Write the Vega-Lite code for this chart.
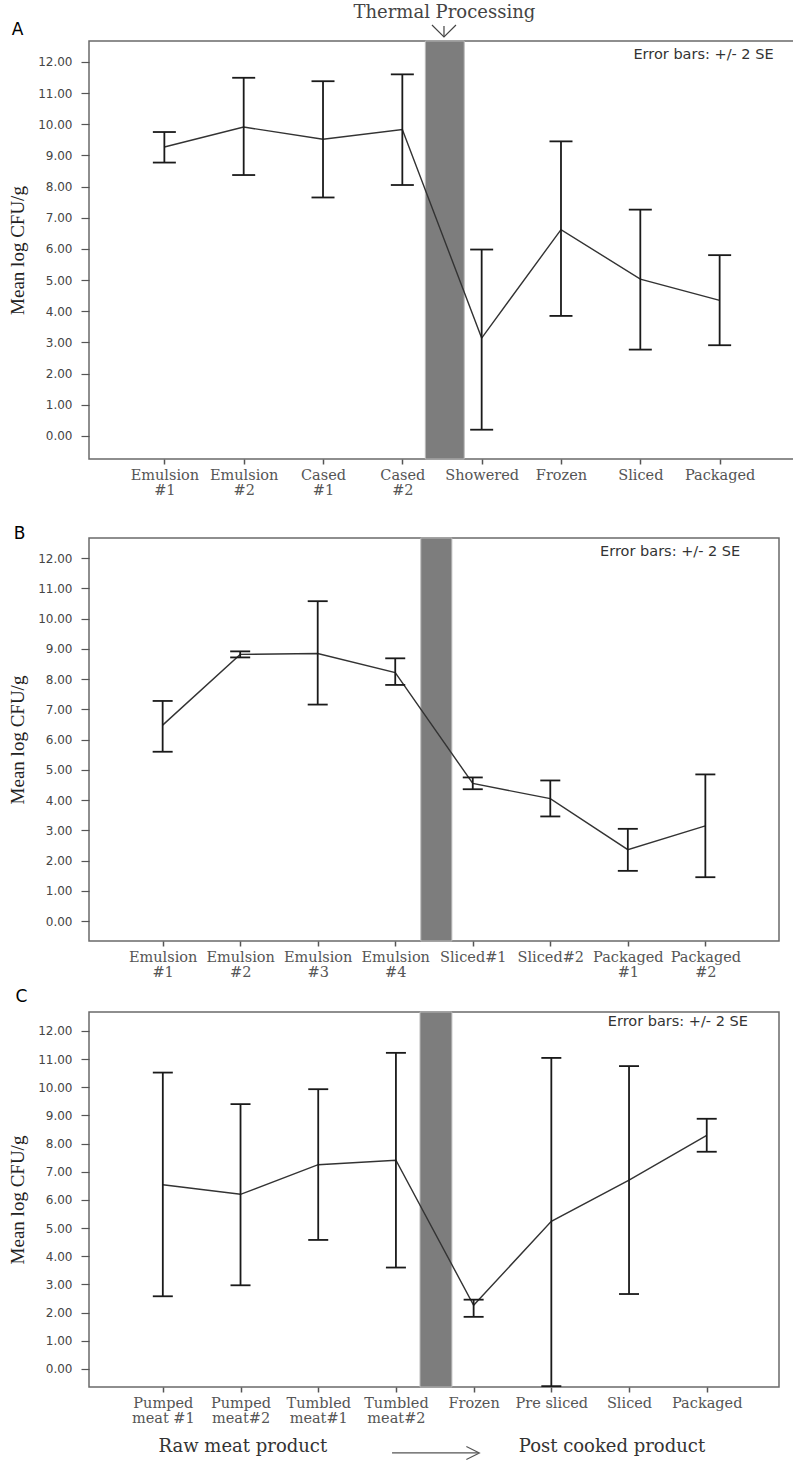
{
  "$schema": "https://vega.github.io/schema/vega-lite/v6.json",
  "padding": {"left": 7, "top": 2, "right": 0, "bottom": 0},
  "background": "white",
  "bounds": "flush",
  "spacing": 79,
  "datasets": {
    "a": [
      {"idx": 1, "stage": "Emulsion #1", "mean": 9.27, "lo": 8.77, "hi": 9.75},
      {"idx": 2, "stage": "Emulsion #2", "mean": 9.91, "lo": 8.37, "hi": 11.49},
      {"idx": 3, "stage": "Cased #1", "mean": 9.52, "lo": 7.65, "hi": 11.38},
      {"idx": 4, "stage": "Cased #2", "mean": 9.83, "lo": 8.05, "hi": 11.6},
      {"idx": 5, "stage": "Showered", "mean": 3.14, "lo": 0.2, "hi": 5.98},
      {"idx": 6, "stage": "Frozen", "mean": 6.62, "lo": 3.85, "hi": 9.45},
      {"idx": 7, "stage": "Sliced", "mean": 5.03, "lo": 2.77, "hi": 7.26},
      {"idx": 8, "stage": "Packaged", "mean": 4.35, "lo": 2.91, "hi": 5.8}
    ],
    "b": [
      {"idx": 1, "stage": "Emulsion #1", "mean": 6.48, "lo": 5.6, "hi": 7.28},
      {"idx": 2, "stage": "Emulsion #2", "mean": 8.82, "lo": 8.72, "hi": 8.92},
      {"idx": 3, "stage": "Emulsion #3", "mean": 8.85, "lo": 7.16, "hi": 10.58},
      {"idx": 4, "stage": "Emulsion #4", "mean": 8.22, "lo": 7.81, "hi": 8.69},
      {"idx": 5, "stage": "Sliced#1", "mean": 4.55, "lo": 4.36, "hi": 4.75},
      {"idx": 6, "stage": "Sliced#2", "mean": 4.05, "lo": 3.46, "hi": 4.65},
      {"idx": 7, "stage": "Packaged #1", "mean": 2.36, "lo": 1.66, "hi": 3.05},
      {"idx": 8, "stage": "Packaged #2", "mean": 3.15, "lo": 1.45, "hi": 4.85}
    ],
    "c": [
      {"idx": 1, "stage": "Pumped meat #1", "mean": 6.54, "lo": 2.58, "hi": 10.52},
      {"idx": 2, "stage": "Pumped meat#2", "mean": 6.2, "lo": 2.97, "hi": 9.4},
      {"idx": 3, "stage": "Tumbled meat#1", "mean": 7.25, "lo": 4.58, "hi": 9.93},
      {"idx": 4, "stage": "Tumbled meat#2", "mean": 7.41, "lo": 3.6, "hi": 11.22},
      {"idx": 5, "stage": "Frozen", "mean": 2.26, "lo": 1.85, "hi": 2.46},
      {"idx": 6, "stage": "Pre sliced", "mean": 5.24, "lo": -0.61, "hi": 11.04},
      {"idx": 7, "stage": "Sliced", "mean": 6.7, "lo": 2.66, "hi": 10.75},
      {"idx": 8, "stage": "Packaged", "mean": 8.29, "lo": 7.71, "hi": 8.88}
    ],
    "note": [{"note": "Error bars: +/- 2 SE"}]
  },
  "vconcat": [
    {
      "width": 706,
      "height": 418,
      "layer": [
        {"data": {"name": "note"}, "mark": {"type": "rect", "color": "#7d7d7d", "stroke": "#b8b8b8", "strokeWidth": 1},
          "encoding": {
            "x": {"datum": 4.29, "type": "quantitative", "scale": {"domain": [0.05, 8.95], "nice": false, "zero": false}}, "x2": {"datum": 4.78},
            "y": {"datum": -0.74, "type": "quantitative", "scale": {"domain": [-0.74, 12.67], "nice": false, "zero": false}}, "y2": {"datum": 12.67}}},
        {"data": {"name": "a"}, "mark": {"type": "line", "color": "#333333", "strokeWidth": 1.4},
          "encoding": {
            "x": {"field": "idx", "type": "quantitative", "scale": {"domain": [0.05, 8.95], "nice": false, "zero": false},
              "axis": {"values": [1, 2, 3, 4, 5, 6, 7, 8], "title": null,
                "labelExpr": "split(['','Emulsion|#1','Emulsion|#2','Cased|#1','Cased|#2','Showered','Frozen','Sliced','Packaged'][datum.value],'|')"}},
            "y": {"field": "mean", "type": "quantitative", "scale": {"domain": [-0.74, 12.67], "nice": false, "zero": false},
              "axis": {"title": "Mean log CFU/g"}}}},
        {"data": {"name": "a"}, "mark": {"type": "rule", "color": "#1a1a1a", "strokeWidth": 1.8},
          "encoding": {"x": {"field": "idx", "type": "quantitative"}, "y": {"field": "lo", "type": "quantitative"}, "y2": {"field": "hi"}}},
        {"data": {"name": "a"}, "mark": {"type": "tick", "orient": "horizontal", "size": 23, "thickness": 1.8, "color": "#1a1a1a", "opacity": 1},
          "encoding": {"x": {"field": "idx", "type": "quantitative"}, "y": {"field": "lo", "type": "quantitative"}}},
        {"data": {"name": "a"}, "mark": {"type": "tick", "orient": "horizontal", "size": 23, "thickness": 1.8, "color": "#1a1a1a", "opacity": 1},
          "encoding": {"x": {"field": "idx", "type": "quantitative"}, "y": {"field": "hi", "type": "quantitative"}}},
        {"data": {"name": "note"}, "mark": {"type": "text", "align": "right", "baseline": "alphabetic", "font": "DejaVu Sans", "fontSize": 14.5, "color": "#333333"},
          "encoding": {"text": {"field": "note"}, "x": {"datum": 8.68, "type": "quantitative"}, "y": {"datum": 12.1, "type": "quantitative"}}},
        {"data": {"name": "note"}, "mark": {"type": "text", "text": "A", "align": "center", "baseline": "alphabetic", "font": "DejaVu Sans", "fontSize": 17, "color": "#000000"},
          "encoding": {"x": {"datum": -0.85, "type": "quantitative"}, "y": {"datum": 12.86, "type": "quantitative"}}},
        {"data": {"name": "note"}, "mark": {"type": "text", "text": "Thermal Processing", "align": "center", "baseline": "alphabetic", "font": "DejaVu Serif", "fontSize": 18, "color": "#444444"},
          "encoding": {"x": {"datum": 4.53, "type": "quantitative"}, "y": {"datum": 13.42, "type": "quantitative"}}},
        {"data": {"name": "note"}, "mark": {"type": "rule", "color": "#444444", "strokeWidth": 1.2},
          "encoding": {"x": {"datum": 4.525, "type": "quantitative"}, "y": {"datum": 13.15, "type": "quantitative"}, "y2": {"datum": 12.8}}},
        {"data": {"name": "note"}, "mark": {"type": "point", "shape": "M -1 -0.5 L 0 0.5 L 1 -0.5", "size": 576, "filled": false, "color": "#444444", "strokeWidth": 1.2, "opacity": 1},
          "encoding": {"x": {"datum": 4.525, "type": "quantitative"}, "y": {"datum": 12.99, "type": "quantitative"}}}
      ]
    },
    {
      "bounds": "flush",
      "spacing": 71,
      "vconcat": [
        {
          "width": 690,
          "height": 403,
          "layer": [
            {"data": {"name": "note"}, "mark": {"type": "rect", "color": "#7d7d7d", "stroke": "#b8b8b8", "strokeWidth": 1},
              "encoding": {
                "x": {"datum": 4.33, "type": "quantitative", "scale": {"domain": [0.05, 8.95], "nice": false, "zero": false}}, "x2": {"datum": 4.73},
                "y": {"datum": -0.66, "type": "quantitative", "scale": {"domain": [-0.66, 12.67], "nice": false, "zero": false}}, "y2": {"datum": 12.67}}},
            {"data": {"name": "b"}, "mark": {"type": "line", "color": "#333333", "strokeWidth": 1.4},
              "encoding": {
                "x": {"field": "idx", "type": "quantitative", "scale": {"domain": [0.05, 8.95], "nice": false, "zero": false},
                  "axis": {"values": [1, 2, 3, 4, 5, 6, 7, 8], "title": null,
                    "labelExpr": "split(['','Emulsion|#1','Emulsion|#2','Emulsion|#3','Emulsion|#4','Sliced#1','Sliced#2','Packaged|#1','Packaged|#2'][datum.value],'|')"}},
                "y": {"field": "mean", "type": "quantitative", "scale": {"domain": [-0.66, 12.67], "nice": false, "zero": false},
                  "axis": {"title": "Mean log CFU/g"}}}},
            {"data": {"name": "b"}, "mark": {"type": "rule", "color": "#1a1a1a", "strokeWidth": 1.8},
              "encoding": {"x": {"field": "idx", "type": "quantitative"}, "y": {"field": "lo", "type": "quantitative"}, "y2": {"field": "hi"}}},
            {"data": {"name": "b"}, "mark": {"type": "tick", "orient": "horizontal", "size": 20, "thickness": 1.8, "color": "#1a1a1a", "opacity": 1},
              "encoding": {"x": {"field": "idx", "type": "quantitative"}, "y": {"field": "lo", "type": "quantitative"}}},
            {"data": {"name": "b"}, "mark": {"type": "tick", "orient": "horizontal", "size": 20, "thickness": 1.8, "color": "#1a1a1a", "opacity": 1},
              "encoding": {"x": {"field": "idx", "type": "quantitative"}, "y": {"field": "hi", "type": "quantitative"}}},
            {"data": {"name": "note"}, "mark": {"type": "text", "align": "right", "baseline": "alphabetic", "font": "DejaVu Sans", "fontSize": 14.5, "color": "#333333"},
              "encoding": {"text": {"field": "note"}, "x": {"datum": 8.45, "type": "quantitative"}, "y": {"datum": 12.09, "type": "quantitative"}}},
            {"data": {"name": "note"}, "mark": {"type": "text", "text": "B", "align": "center", "baseline": "alphabetic", "font": "DejaVu Sans", "fontSize": 17, "color": "#000000"},
              "encoding": {"x": {"datum": -0.845, "type": "quantitative"}, "y": {"datum": 12.65, "type": "quantitative"}}}
          ]
        },
        {
          "width": 690,
          "height": 375,
          "layer": [
            {"data": {"name": "note"}, "mark": {"type": "rect", "color": "#7d7d7d", "stroke": "#b8b8b8", "strokeWidth": 1},
              "encoding": {
                "x": {"datum": 4.31, "type": "quantitative", "scale": {"domain": [0.05, 8.93], "nice": false, "zero": false}}, "x2": {"datum": 4.72},
                "y": {"datum": -0.64, "type": "quantitative", "scale": {"domain": [-0.64, 12.67], "nice": false, "zero": false}}, "y2": {"datum": 12.67}}},
            {"data": {"name": "c"}, "mark": {"type": "line", "color": "#333333", "strokeWidth": 1.4},
              "encoding": {
                "x": {"field": "idx", "type": "quantitative", "scale": {"domain": [0.05, 8.93], "nice": false, "zero": false},
                  "axis": {"values": [1, 2, 3, 4, 5, 6, 7, 8], "title": null,
                    "labelExpr": "split(['','Pumped|meat #1','Pumped|meat#2','Tumbled|meat#1','Tumbled|meat#2','Frozen','Pre sliced','Sliced','Packaged'][datum.value],'|')"}},
                "y": {"field": "mean", "type": "quantitative", "scale": {"domain": [-0.64, 12.67], "nice": false, "zero": false},
                  "axis": {"title": "Mean log CFU/g"}}}},
            {"data": {"name": "c"}, "mark": {"type": "rule", "color": "#1a1a1a", "strokeWidth": 1.8},
              "encoding": {"x": {"field": "idx", "type": "quantitative"}, "y": {"field": "lo", "type": "quantitative"}, "y2": {"field": "hi"}}},
            {"data": {"name": "c"}, "mark": {"type": "tick", "orient": "horizontal", "size": 20, "thickness": 1.8, "color": "#1a1a1a", "opacity": 1},
              "encoding": {"x": {"field": "idx", "type": "quantitative"}, "y": {"field": "lo", "type": "quantitative"}}},
            {"data": {"name": "c"}, "mark": {"type": "tick", "orient": "horizontal", "size": 20, "thickness": 1.8, "color": "#1a1a1a", "opacity": 1},
              "encoding": {"x": {"field": "idx", "type": "quantitative"}, "y": {"field": "hi", "type": "quantitative"}}},
            {"data": {"name": "note"}, "mark": {"type": "text", "align": "right", "baseline": "alphabetic", "font": "DejaVu Sans", "fontSize": 14.5, "color": "#333333"},
              "encoding": {"text": {"field": "note"}, "x": {"datum": 8.53, "type": "quantitative"}, "y": {"datum": 12.18, "type": "quantitative"}}},
            {"data": {"name": "note"}, "mark": {"type": "text", "text": "C", "align": "center", "baseline": "alphabetic", "font": "DejaVu Sans", "fontSize": 17, "color": "#000000"},
              "encoding": {"x": {"datum": -0.82, "type": "quantitative"}, "y": {"datum": 13.03, "type": "quantitative"}}},
            {"data": {"name": "note"}, "mark": {"type": "text", "text": "Raw meat product", "align": "center", "baseline": "alphabetic", "font": "DejaVu Serif", "fontSize": 18, "color": "#333333"},
              "encoding": {"x": {"datum": 2.03, "type": "quantitative"}, "y": {"datum": -2.93, "type": "quantitative"}}},
            {"data": {"name": "note"}, "mark": {"type": "text", "text": "Post cooked product", "align": "center", "baseline": "alphabetic", "font": "DejaVu Serif", "fontSize": 18, "color": "#333333"},
              "encoding": {"x": {"datum": 6.78, "type": "quantitative"}, "y": {"datum": -2.93, "type": "quantitative"}}},
            {"data": {"name": "note"}, "mark": {"type": "rule", "color": "#555555", "strokeWidth": 1.2},
              "encoding": {"x": {"datum": 3.95, "type": "quantitative"}, "x2": {"datum": 5.06}, "y": {"datum": -2.98, "type": "quantitative"}}},
            {"data": {"name": "note"}, "mark": {"type": "point", "shape": "M -1 -1 L 1 0 L -1 1", "size": 169, "filled": false, "color": "#555555", "strokeWidth": 1.2, "opacity": 1},
              "encoding": {"x": {"datum": 4.99, "type": "quantitative"}, "y": {"datum": -2.98, "type": "quantitative"}}}
          ]
        }
      ]
    }
  ],
  "config": {
    "view": {"stroke": "#6a6a6a", "strokeWidth": 1.5},
    "axisX": {"grid": false, "domain": false, "tickSize": 5, "tickColor": "#555555", "tickWidth": 1.5,
      "labelFont": "DejaVu Serif", "labelFontSize": 14.5, "labelColor": "#555555", "labelLineHeight": 15,
      "labelPadding": 4, "labelOverlap": false, "labelFlush": false, "labelBound": false, "labelAngle": 0},
    "axisY": {"grid": false, "domain": false, "tickSize": 8, "tickColor": "#555555", "tickWidth": 1.2,
      "values": [0, 1, 2, 3, 4, 5, 6, 7, 8, 9, 10, 11, 12], "format": ".2f",
      "labelFont": "DejaVu Sans", "labelFontSize": 12, "labelColor": "#444444", "labelPadding": 9,
      "labelOverlap": false, "labelFlush": false,
      "titleFont": "Liberation Serif", "titleFontSize": 19, "titleFontWeight": "normal", "titleColor": "#222222", "titlePadding": 10}
  }
}
